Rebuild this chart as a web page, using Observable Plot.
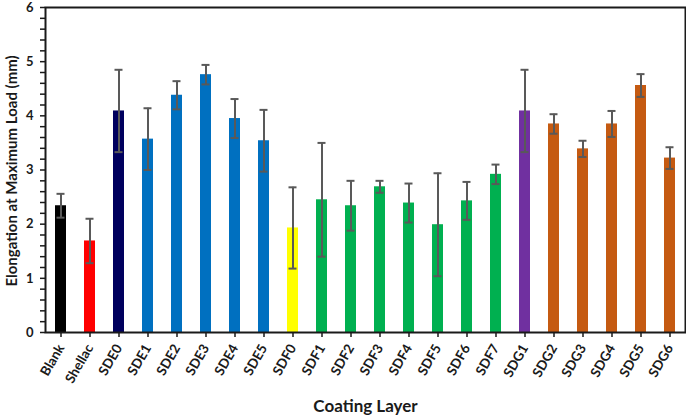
<!DOCTYPE html>
<html>
<head>
<meta charset="utf-8">
<script src="https://cdn.jsdelivr.net/npm/d3@7"></script>
<script src="https://cdn.jsdelivr.net/npm/@observablehq/plot@0.6"></script>
<style>
  html, body { margin: 0; padding: 0; background: #fff; }
  #chart svg { font-family: Lato, "Open Sans", sans-serif; font-weight: bold; }
</style>
</head>
<body>
<div id="chart"></div>
<script>
const categories = ["Blank","Shellac","SDE0","SDE1","SDE2","SDE3","SDE4","SDE5","SDF0","SDF1","SDF2","SDF3","SDF4","SDF5","SDF6","SDF7","SDG1","SDG2","SDG3","SDG4","SDG5","SDG6"];
const values = [2.34,1.69,4.09,3.57,4.38,4.76,3.95,3.54,1.93,2.45,2.34,2.69,2.39,1.99,2.43,2.92,4.09,3.85,3.39,3.85,4.56,3.22];
const errors = [0.22,0.41,0.76,0.57,0.26,0.18,0.36,0.57,0.75,1.05,0.46,0.11,0.36,0.95,0.35,0.18,0.76,0.18,0.15,0.24,0.21,0.20];
const colors = ["#000000","#ff0000","#00005e","#0070c0","#0070c0","#0070c0","#0070c0","#0070c0","#ffff00","#00b050","#00b050","#00b050","#00b050","#00b050","#00b050","#00b050","#7030a0","#c55a11","#c55a11","#c55a11","#c55a11","#c55a11"];
const yTicks = [0,1,2,3,4,5,6];
const yMinor = d3.range(0, 30).map(i => i / 5).filter(v => !yTicks.includes(v));
const yLabel = "Elongation at Maximum Load (mm)";
const xLabel = "Coating Layer";

const data = categories.map((c, i) => ({cat: c, value: values[i], err: errors[i], color: colors[i]}));

const chart = Plot.plot({
  width: 686,
  height: 419,
  marginLeft: 45,
  marginRight: 1,
  marginTop: 7,
  marginBottom: 87,
  x: {domain: categories, paddingInner: 0.62, paddingOuter: 0.31, axis: null},
  y: {domain: [0, 6], axis: null},
  marks: [
    Plot.barY(data, {x: "cat", y: "value", fill: "color"}),
    Plot.ruleX(data, {x: "cat", y1: d => d.value - d.err, y2: d => d.value + d.err, stroke: "#595959", strokeWidth: 2}),
    Plot.tickY(data, {x: "cat", y: d => d.value + d.err, stroke: "#595959", strokeWidth: 2, insetLeft: 1.5, insetRight: 1.5}),
    Plot.tickY(data, {x: "cat", y: d => d.value - d.err, stroke: "#595959", strokeWidth: 2, insetLeft: 1.5, insetRight: 1.5}),
    Plot.frame({stroke: "#1a1a1a", strokeWidth: 2}),
    Plot.axisY({ticks: yTicks, label: null, tickSize: 5, tickPadding: 7, fontSize: 13, tickFormat: d3.format("d"), stroke: "#1a1a1a", strokeWidth: 1.5, fill: "#1a1a1a"}),
    Plot.axisY({ticks: yMinor, label: null, tickSize: 5, tickFormat: () => "", stroke: "#1a1a1a", strokeWidth: 1.5}),
    Plot.axisX({label: null, tickRotate: -60, tickSize: 5, tickPadding: 8, fontSize: 13.5, stroke: "#1a1a1a", strokeWidth: 1.5, fill: "#1a1a1a"}),
    Plot.text([yLabel], {frameAnchor: "left", textAnchor: "middle", dx: -33, dy: 1, rotate: -90, fontSize: 15, fontWeight: "bold", fill: "#1a1a1a"}),
    Plot.text([xLabel], {frameAnchor: "bottom", textAnchor: "middle", dy: 79, fontSize: 17, fontWeight: "bold", fill: "#1a1a1a"})
  ]
});
document.getElementById("chart").appendChild(chart);
</script>
</body>
</html>
